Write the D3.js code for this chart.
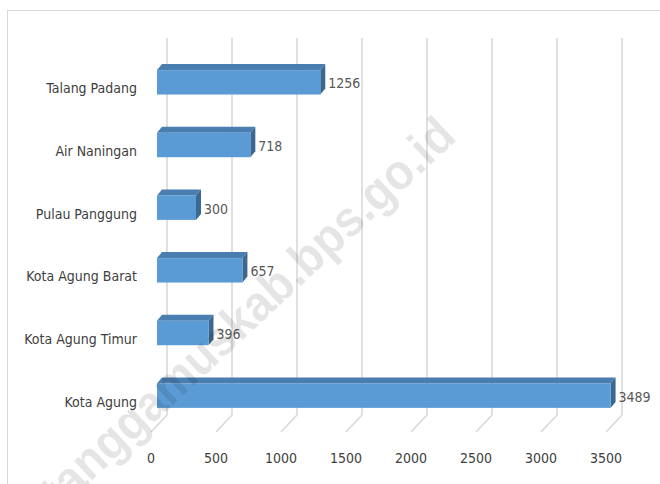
<!DOCTYPE html>
<html>
<head>
    <meta charset="utf-8" />
    <script src="https://d3js.org/d3.v7.min.js"></script>
    <style>
        body { margin: 0; background: #fff; }
        text { font-family: "Liberation Sans Narrow", "DejaVu Sans Condensed", "Arial Narrow", sans-serif; }
    </style>
</head>
<body>
    <svg id="chart" width="660" height="484"></svg>

<script>
    // data
    const categories = ["Talang Padang", "Air Naningan", "Pulau Panggung", "Kota Agung Barat", "Kota Agung Timur", "Kota Agung"];
    const values = [1256, 718, 300, 657, 396, 3489];
    const tickValues = [0, 500, 1000, 1500, 2000, 2500, 3000, 3500];
    const watermark = "tanggamuskab.bps.go.id";

    const width = 660;
    const height = 484;

    // 3d offsets
    const floorDx = 16, floorDy = -17;   // front floor -> back wall
    const barOff = 6;                     // bar front plane sits a bit behind floor front
    const barDx = 5, barDy = -6;          // bar depth

    const svg = d3.select("#chart");

    // chart frame
    svg.append("rect")
        .attr("x", 7.5)
        .attr("y", 10.5)
        .attr("width", 700)
        .attr("height", 500)
        .attr("fill", "#fff")
        .attr("stroke", "#d9d9d9");

    // x scale along the front edge of the floor
    const xScale = d3.scaleLinear()
        .domain([0, 3500])
        .range([151, 606]);

    // y scale for the bar front faces
    const yScale = d3.scaleBand()
        .domain(categories)
        .range([51, 427])
        .paddingInner(0.61)
        .paddingOuter(0.305);

    const gridTop = 38;
    const floorFront = 432;

    // gridlines on back wall + floor diagonals
    const grid = svg.append("g");
    tickValues.forEach(t => {
        grid.append("path")
            .attr("d", d3.line()([
                [xScale(t) + floorDx, gridTop],
                [xScale(t) + floorDx, floorFront + floorDy],
                [xScale(t), floorFront]
            ]))
            .attr("fill", "none")
            .attr("stroke", "#d9d9d9")
            .attr("stroke-width", 1.6);
    });

    // tick labels
    svg.append("g").selectAll("text")
        .data(tickValues)
        .enter().append("text")
        .attr("x", d => xScale(d))
        .attr("y", 458)
        .attr("dy", "0.35em")
        .attr("text-anchor", "middle")
        .attr("fill", "#404040")
        .style("font-size", "14px")
        .text(d => d);

    const data = categories.map((c, i) => ({ name: c, value: values[i] }));

    const bars = svg.append("g").selectAll("g")
        .data(data)
        .enter().append("g");

    const x0 = xScale(0) + barOff;

    // top face
    bars.append("path")
        .attr("d", d => {
            const x1 = xScale(d.value) + barOff;
            const y = yScale(d.name);
            return d3.line()([[x0, y], [x0 + barDx, y + barDy], [x1 + barDx, y + barDy], [x1, y]]) + "Z";
        })
        .attr("fill", "#4a7db0");

    // side face
    bars.append("path")
        .attr("d", d => {
            const x1 = xScale(d.value) + barOff;
            const y = yScale(d.name);
            const h = yScale.bandwidth();
            return d3.line()([[x1, y], [x1 + barDx, y + barDy], [x1 + barDx, y + h + barDy], [x1, y + h]]) + "Z";
        })
        .attr("fill", "#3b6891");

    // front face
    bars.append("rect")
        .attr("x", x0)
        .attr("y", d => yScale(d.name))
        .attr("width", d => xScale(d.value) + barOff - x0)
        .attr("height", yScale.bandwidth())
        .attr("fill", "#5b9bd5");

    // value labels
    bars.append("text")
        .attr("x", d => xScale(d.value) + barOff + barDx + 3)
        .attr("y", d => yScale(d.name) + yScale.bandwidth() / 2 + 1)
        .attr("dy", "0.35em")
        .attr("fill", "#595959")
        .style("font-size", "14px")
        .text(d => d.value);

    // category labels
    svg.append("g").selectAll("text")
        .data(categories)
        .enter().append("text")
        .attr("x", 137)
        .attr("y", d => yScale(d) + yScale.bandwidth() / 2 + 6)
        .attr("dy", "0.35em")
        .attr("text-anchor", "end")
        .attr("fill", "#404040")
        .style("font-size", "14px")
        .text(d => d);

    // watermark
    svg.append("text")
        .attr("transform", "translate(247,312) rotate(-43)")
        .attr("text-anchor", "middle")
        .attr("dy", "0.35em")
        .attr("fill", "#000")
        .attr("fill-opacity", 0.1)
        .attr("textLength", 545)
        .attr("lengthAdjust", "spacingAndGlyphs")
        .style("font-family", "'Liberation Sans', 'DejaVu Sans', sans-serif")
        .style("font-weight", "bold")
        .style("font-size", "50px")
        .text(watermark);
</script>
</body>
</html>
